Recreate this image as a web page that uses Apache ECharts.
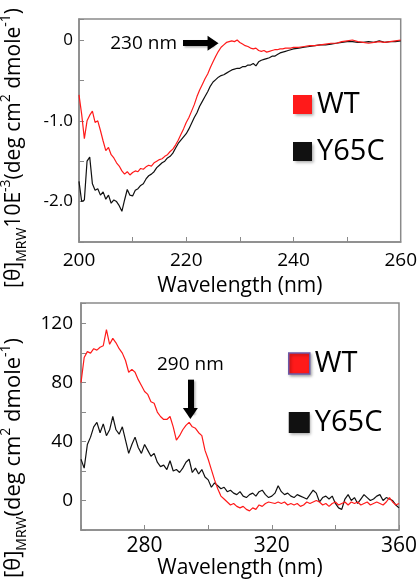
<!DOCTYPE html>
<html>
<head>
<meta charset="utf-8">
<script src="https://cdn.jsdelivr.net/npm/echarts@6/dist/echarts.min.js"></script>
<style>
html,body{margin:0;padding:0;background:#fff;}
#chart{width:420px;height:585px;}
</style>
</head>
<body>
<div id="chart"></div>
<script>
// ---------- Top panel: far-UV CD (200–260 nm) ----------
const topWavelength = [
  200,200.5,201,201.5,202,202.5,203,203.5,204,204.5,205,205.5,206,206.5,207,207.5,208,208.5,209,209.5,
  210,210.5,211,211.5,212,212.5,213,213.5,214,214.5,215,215.5,216,216.5,217,217.5,218,218.5,219,219.5,
  220,220.5,221,221.5,222,222.5,223,223.5,224,224.5,225,225.5,226,226.5,227,227.5,228,228.5,229,229.5,
  230,230.5,231,231.5,232,232.5,233,233.5,234,234.5,235,235.5,236,236.5,237,237.5,238,238.5,239,239.5,
  240,241,242,243,244,245,246,247,248,249,250,251,252,253,254,255,256,257,258,259,260
];
const topWT = [
  -0.68,-0.92,-1.22,-1.00,-0.93,-0.88,-1.02,-1.00,-1.12,-1.25,-1.37,-1.33,-1.42,-1.46,-1.52,-1.56,-1.62,-1.66,-1.63,-1.67,
  -1.64,-1.62,-1.63,-1.59,-1.60,-1.57,-1.55,-1.56,-1.52,-1.50,-1.48,-1.47,-1.44,-1.42,-1.38,-1.35,-1.30,-1.24,-1.17,-1.10,
  -1.02,-0.96,-0.88,-0.80,-0.70,-0.62,-0.55,-0.48,-0.42,-0.34,-0.27,-0.20,-0.14,-0.09,-0.06,-0.03,-0.02,-0.01,-0.02,0.00,
  -0.03,-0.05,-0.07,-0.08,-0.10,-0.11,-0.10,-0.13,-0.14,-0.13,-0.15,-0.14,-0.13,-0.12,-0.12,-0.11,-0.11,-0.10,-0.10,-0.10,
  -0.09,-0.09,-0.08,-0.07,-0.07,-0.06,-0.05,-0.04,-0.04,-0.02,-0.01,0.00,-0.02,-0.03,-0.04,-0.03,-0.02,-0.03,-0.02,-0.01,0.00
];
const topY65C = [
  -1.75,-2.00,-1.98,-1.50,-1.45,-1.78,-1.86,-1.84,-1.92,-1.88,-1.97,-1.92,-2.02,-1.98,-2.00,-2.05,-2.12,-1.98,-1.85,-1.92,
  -1.93,-1.86,-1.84,-1.80,-1.78,-1.72,-1.68,-1.66,-1.63,-1.58,-1.55,-1.52,-1.50,-1.46,-1.44,-1.40,-1.34,-1.28,-1.24,-1.20,
  -1.16,-1.10,-1.03,-0.96,-0.90,-0.82,-0.76,-0.70,-0.64,-0.57,-0.52,-0.49,-0.46,-0.44,-0.43,-0.41,-0.39,-0.37,-0.36,-0.35,
  -0.35,-0.33,-0.33,-0.31,-0.31,-0.29,-0.32,-0.27,-0.25,-0.24,-0.23,-0.22,-0.20,-0.20,-0.18,-0.16,-0.15,-0.14,-0.13,-0.12,
  -0.11,-0.10,-0.09,-0.08,-0.07,-0.06,-0.06,-0.05,-0.04,-0.03,-0.02,-0.02,-0.03,-0.03,-0.02,-0.03,-0.01,-0.03,-0.02,-0.02,-0.01
];

// ---------- Bottom panel: near-UV CD (260–360 nm) ----------
const botWavelength = [];
for (let w = 260; w <= 360; w++) botWavelength.push(w);
const botWT = [
  80,97,101,100,103,102,104,105,116,106, 110,107,103,100,95,87,89,87,82,78,
  74,72,67,66,60,57,55,55,57,50, 41,44,48,51,53,50,49,46,44,34,
  28,21,14,8,3,1,-1,-3,-2,-4, -5,-4,-6,-7,-5,-6,-3,-4,-2,-1,
  -1.5,-2,-1,-2,-1,-3,-2,-3,-2,-4, -3,-1,-2,-1,0,-1,-3,-2,-4,-2,
  -1,-3,-2,-1,-3,-1,-2,-1,-3,-2, -1,-3,-2,-1,-2,-3,-1,2,-1,-3, -2
];
const botY65C = [
  28,22,38,43,50,53,46,52,44,48, 57,48,45,50,41,32,38,43,36,32,
  38,34,30,32,26,23,24,21,27,20, 21,19,22,26,28,19,22,18,21,16,
  14,9,12,10,8,9,6,7,5,4, 6,3,2,4,5,3,6,7,4,2,
  3,5,10,6,4,5,3,2,4,3, 2,1,4,7,5,-1,2,3,1,3,
  -2,-5,-6,1,4,0,2,-2,1,4, 2,0,1,3,4,0,2,1,0,-3, -5
];

// Axis tick settings and annotation labels
const topXLabels = [200, 220, 240, 260];
const topYLabels = [0, -1, -2];
const botXLabels = [280, 320, 360];
const botYLabels = [0, 40, 80, 120];
const seriesNames = ['WT', 'Y65C'];
const arrowTop = { from: [219.4, -0.04], to: [225.0, -0.04], text: '230 nm' };
const arrowBot = { from: [294.4, 82], to: [294.4, 59], text: '290 nm' };

const RED = '#ff1a1a', BLACK = '#111111', FRAME = '#8a8a8a';
const FONT = '"Open Sans"';

const pair = (xs, ys) => xs.map((x, i) => [x, ys[i]]);

function axisCommon() {
  return {
    axisLine: { show: true, onZero: false, lineStyle: { color: FRAME, width: 1.5 } },
    axisTick: { show: true, inside: true, length: 5, lineStyle: { color: FRAME, width: 1 } },
    splitLine: { show: false }
  };
}

const arrowMark = (a) => ({
  silent: true,
  symbol: ['none', 'triangle'],
  symbolSize: [15, 11],
  lineStyle: { color: '#000', width: 6, type: 'solid', shadowColor: 'rgba(0,0,0,0.3)', shadowBlur: 2, shadowOffsetX: 1.5, shadowOffsetY: 1.5 },
  itemStyle: { color: '#000' },
  label: { show: true, position: 'start', formatter: a.text, color: '#000', fontSize: 19, fontFamily: FONT, distance: 6 },
  emphasis: { disabled: true },
  data: [[{ coord: a.from }, { coord: a.to }]]
});

const sub = { fontSize: 14, fontFamily: FONT, color: '#000', lineHeight: 14, verticalAlign: 'bottom' };
const sup = { fontSize: 14, fontFamily: FONT, color: '#000', lineHeight: 14, verticalAlign: 'top' };
const main = { fontSize: 21, fontFamily: FONT, color: '#000', lineHeight: 30 };
const mainB = Object.assign({}, main, { fontSize: 22 });

const chart = echarts.init(document.getElementById('chart'), null, { renderer: 'canvas' });
chart.setOption({
  animation: false,
  backgroundColor: '#fff',
  grid: [
    { left: 79, top: 19, width: 324, height: 223, show: true, borderColor: FRAME, borderWidth: 1.5, backgroundColor: 'transparent' },
    { left: 81, top: 303, width: 322, height: 227, show: true, borderColor: FRAME, borderWidth: 1.5, backgroundColor: 'transparent' }
  ],
  xAxis: [
    Object.assign(axisCommon(), {
      gridIndex: 0, type: 'value', min: 200, max: 260, interval: 10,
      name: 'Wavelength (nm)', nameLocation: 'middle', nameGap: 34,
      nameTextStyle: { fontSize: 21, fontFamily: FONT, color: '#000' },
      axisLabel: { fontSize: 19, fontFamily: FONT, color: '#000', margin: 9,
        formatter: v => topXLabels.includes(v) ? String(v) : '' }
    }),
    Object.assign(axisCommon(), {
      gridIndex: 1, type: 'value', min: 260, max: 360, interval: 20,
      name: 'Wavelength (nm)', nameLocation: 'middle', nameGap: 28,
      nameTextStyle: { fontSize: 21, fontFamily: FONT, color: '#000' },
      axisLabel: { fontSize: 21, fontFamily: FONT, color: '#000', margin: 6,
        formatter: v => botXLabels.includes(v) ? String(v) : '' }
    })
  ],
  yAxis: [
    Object.assign(axisCommon(), {
      gridIndex: 0, type: 'value', min: -2.5, max: 0.26, interval: 0.5,
      axisLabel: { fontSize: 17, fontFamily: FONT, color: '#000', margin: 6,
        formatter: v => topYLabels.some(t => Math.abs(t - v) < 1e-6) ? (v === 0 ? '0' : v.toFixed(1)) : '' }
    }),
    Object.assign(axisCommon(), {
      gridIndex: 1, type: 'value', min: -20, max: 134, interval: 20,
      axisLabel: { fontSize: 19, fontFamily: FONT, color: '#000', margin: 8,
        formatter: v => botYLabels.includes(v) ? String(v) : '' }
    })
  ],
  legend: [
    {
      left: 288, top: 85, orient: 'vertical', itemGap: 18, itemWidth: 19, itemHeight: 19, icon: 'rect',
      selectedMode: false,
      textStyle: { fontSize: 29, fontFamily: FONT, color: '#000' },
      itemStyle: { shadowColor: 'rgba(0,0,0,0.35)', shadowBlur: 3, shadowOffsetX: 1.5, shadowOffsetY: 1.5 },
      data: seriesNames
    },
    {
      left: 283, top: 344, orient: 'vertical', itemGap: 30, itemWidth: 21, itemHeight: 21, icon: 'rect',
      selectedMode: false,
      textStyle: { fontSize: 29, fontFamily: FONT, color: '#000' },
      itemStyle: { shadowColor: 'rgba(0,0,0,0.35)', shadowBlur: 3, shadowOffsetX: 1.5, shadowOffsetY: 1.5 },
      data: [
        { name: seriesNames[0], itemStyle: { borderColor: '#6a5aa8', borderWidth: 1.5 } },
        { name: seriesNames[1] }
      ]
    }
  ],
  graphic: [
    {
      type: 'text', x: 14, y: 148, rotation: Math.PI / 2,
      style: {
        text: '{m|[θ]}{s|MRW}{m|10E}{p|-3}{m|(deg cm}{p|2}{m| dmole}{p|-1}{m|)}',
        rich: { m: main, s: sub, p: sup },
        align: 'center', verticalAlign: 'middle'
      }
    },
    {
      type: 'text', x: 14, y: 458, rotation: Math.PI / 2,
      style: {
        text: '{m|[θ]}{s|MRW}{m|(deg cm}{p|2}{m| dmole}{p|-1}{m|)}',
        rich: { m: mainB, s: sub, p: sup },
        align: 'center', verticalAlign: 'middle'
      }
    }
  ],
  series: [
    { name: seriesNames[1], type: 'line', xAxisIndex: 0, yAxisIndex: 0, showSymbol: false, color: BLACK,
      lineStyle: { color: BLACK, width: 1.2 }, data: pair(topWavelength, topY65C) },
    { name: seriesNames[0], type: 'line', xAxisIndex: 0, yAxisIndex: 0, showSymbol: false, color: RED,
      lineStyle: { color: RED, width: 1.2 }, data: pair(topWavelength, topWT), markLine: arrowMark(arrowTop) },
    { name: seriesNames[1], type: 'line', xAxisIndex: 1, yAxisIndex: 1, showSymbol: false, color: BLACK,
      lineStyle: { color: BLACK, width: 1.2 }, data: pair(botWavelength, botY65C) },
    { name: seriesNames[0], type: 'line', xAxisIndex: 1, yAxisIndex: 1, showSymbol: false, color: RED,
      lineStyle: { color: RED, width: 1.2 }, data: pair(botWavelength, botWT), markLine: arrowMark(arrowBot) }
  ]
});
</script>
</body>
</html>
